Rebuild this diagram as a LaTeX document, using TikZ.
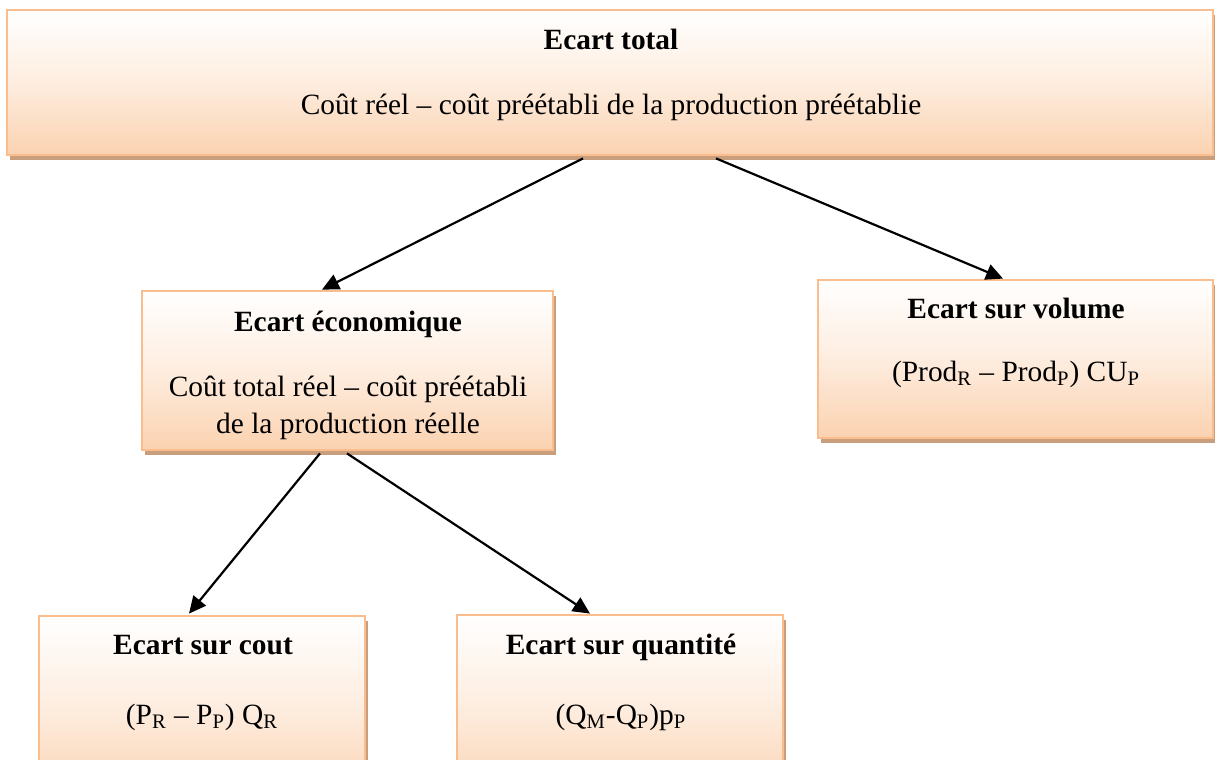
\documentclass[tikz,border=0pt]{standalone}
\usepackage{fontspec}
\setmainfont{Liberation Serif}
\usetikzlibrary{fit,shadows,calc,arrows.meta}

\definecolor{peach}{RGB}{251,210,176}
\definecolor{peachedge}{RGB}{250,190,142}
\definecolor{shadowbrown}{RGB}{200,158,124}

\tikzset{
  box/.style={draw=peachedge, line width=1.4pt, inner sep=0pt,
    top color=white, bottom color=peach, middle color=peach!40,
    drop shadow={shadow xshift=1.6pt, shadow yshift=-2.4pt,
      fill=shadowbrown, opacity=1}},
  title/.style={anchor=base, font=\fontsize{14.7}{17}\selectfont\bfseries, inner sep=0pt},
  body/.style={anchor=base, font=\fontsize{14.7}{17}\selectfont, inner sep=0pt},
  link/.style={-{Triangle[length=8.5pt,width=8pt]}, line width=1.1pt, black},
}

\begin{document}
\begin{tikzpicture}[x=0.5pt, y=-0.5pt]
  \useasboundingbox (0,0) rectangle (1215,760);
  \clip (0,0) rectangle (1215,760);

  % boxes
  \node[box, fit={(7,10) (1213,155)}] (total) {};
  \node[box, fit={(142,291) (553,450)}] (econ) {};
  \node[box, fit={(818,280) (1213,438)}] (volume) {};
  \node[box, fit={(39,616) (365,800)}] (cout) {};
  \node[box, fit={(457,615) (783,800)}] (quant) {};

  % texts
  \node[title] (t1) at (611,49) {Ecart total};
  \node[body]  (b1) at (611,114) {Coût réel – coût préétabli de la production préétablie};

  \node[title] (t2) at (348,331) {Ecart économique};
  \node[body]  (b2a) at (348,396) {Coût total réel – coût préétabli};
  \node[body]  (b2b) at (348,433) {de la production réelle};

  \node[title] (t3) at (1016,318) {Ecart sur volume};
  \node[body]  (b3) at (1016,381) {(Prod\textsubscript{R} – Prod\textsubscript{P}) CU\textsubscript{P}};

  \node[title] (t4) at (203,654) {Ecart sur cout};
  \node[body]  (b4) at (202,724) {(P\textsubscript{R} – P\textsubscript{P}) Q\textsubscript{R}};

  \node[title] (t5) at (621,654) {Ecart sur quantité};
  \node[body]  (b5) at (621,724) {(Q\textsubscript{M}-Q\textsubscript{P})p\textsubscript{P}};

  % connectors
  \draw[link] ($(total.south)+(-27,2)$) -- ($(econ.north)+(-25.5,0)$);
  \draw[link] ($(total.south)+(106,2)$) -- ($(volume.north)+(-12.5,0)$);
  \draw[link] ($(econ.south)+(-27.5,2)$) -- ($(cout.north)+(-13,-1)$);
  \draw[link] ($(econ.south)+(-0.5,2)$) -- ($(quant.north)+(-30,0)$);
\end{tikzpicture}
\end{document}
